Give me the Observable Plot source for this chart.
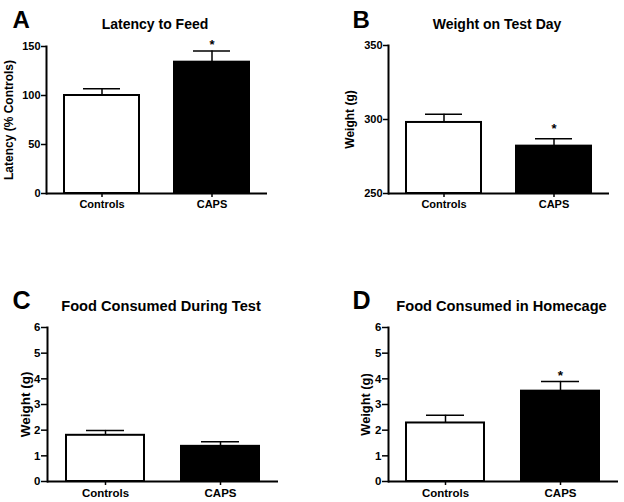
<!DOCTYPE html>
<html>
<head>
<meta charset="utf-8">
<script src="https://cdn.jsdelivr.net/npm/d3@7"></script>
<script src="https://cdn.jsdelivr.net/npm/@observablehq/plot@0.6"></script>
<style>
  body { margin: 0; background: #fff; }
  #wrap { position: relative; width: 624px; height: 502px; overflow: hidden; }
  #wrap svg { position: absolute; }
</style>
</head>
<body>
<div id="wrap"></div>
<script>
// ---- data ----
const groups = ["Controls", "CAPS"];

const latencyMeans = [100, 134];
const latencyErrors = [7, 11.5];
const latencySig = [false, true];
const latencyTicks = [0, 50, 100, 150];

const weightMeans = [298, 282];
const weightErrors = [5.5, 5];
const weightSig = [false, true];
const weightTicks = [250, 300, 350];

const foodTestMeans = [1.8, 1.37];
const foodTestErrors = [0.19, 0.18];
const foodTestSig = [false, false];
const foodTicks = [0, 1, 2, 3, 4, 5, 6];

const foodHomeMeans = [2.28, 3.52];
const foodHomeErrors = [0.3, 0.38];
const foodHomeSig = [false, true];

const FONT = "'Liberation Sans', Arial, Helvetica, sans-serif";

function panel(cfg) {
  const data = groups.map((g, i) => ({
    group: g, mean: cfg.means[i], err: cfg.errors[i], top: cfg.means[i] + cfg.errors[i], sig: cfg.sig[i]
  }));
  const base = cfg.ticks[0];
  const k = cfg.k;
  const svg = Plot.plot({
    width: cfg.width,
    height: cfg.height,
    marginLeft: cfg.mL, marginRight: cfg.mR, marginTop: cfg.mT, marginBottom: cfg.mB,
    style: {fontFamily: FONT, fontWeight: "bold", fontSize: (11 * k) + "px", color: "black", background: "white", overflow: "visible"},
    x: {domain: groups, paddingInner: 0.32, paddingOuter: 0.16, axis: null},
    y: {domain: [cfg.ticks[0], cfg.ticks[cfg.ticks.length - 1]], axis: null},
    color: {type: "identity"},
    marks: [
      Plot.barY(data, {x: "group", y1: () => base, y2: "mean",
        fill: d => d.group === "CAPS" ? "black" : "white", stroke: "black", strokeWidth: 2}),
      Plot.ruleX(data, {x: "group", y1: "mean", y2: "top", stroke: "black", strokeWidth: 1.5}),
      Plot.tickY(data, {x: "group", y: "top", stroke: "black", strokeWidth: 1.5, insetLeft: cfg.cap, insetRight: cfg.cap}),
      Plot.text(data.filter(d => d.sig), {x: "group", y: "top", text: () => "*", dy: cfg.starDy,
        fontSize: 13 * k, lineAnchor: "middle", fill: "black"}),
      Plot.ruleY([base], {stroke: "black", strokeWidth: 2}),
      Plot.frame({anchor: "left", stroke: "black", strokeWidth: 2}),
      Plot.axisY({ticks: cfg.ticks, tickFormat: d => String(d), tickSize: cfg.tickSize, tickPadding: 1, label: null,
        strokeWidth: 1.5, fontSize: 11 * k}),
      Plot.axisX({tickSize: 4, tickPadding: 3, label: null, strokeWidth: 1.5, fontSize: 11 * k}),
      Plot.text([cfg.yLabel], {frameAnchor: "left", rotate: -90, dx: cfg.labelDx, textAnchor: "middle",
        lineAnchor: "middle", fontSize: cfg.labelSize, fill: "black"}),
      Plot.text([cfg.title], {frameAnchor: "top", dx: -2, dy: cfg.titleDy, lineAnchor: "bottom",
        fontSize: 14 * k, fill: "black"}),
      Plot.text([cfg.letter], {frameAnchor: "top-left", dx: cfg.letterDx, dy: cfg.letterDy, textAnchor: "start",
        lineAnchor: "bottom", fontSize: 24 * k, fill: "black"})
    ]
  });
  svg.style.left = cfg.left + "px";
  svg.style.top = cfg.top + "px";
  document.getElementById("wrap").appendChild(svg);
}

panel({letter: "A", title: "Latency to Feed", yLabel: "Latency (% Controls)",
  means: latencyMeans, errors: latencyErrors, sig: latencySig, ticks: latencyTicks,
  left: 0, top: 0, width: 312, height: 250, mL: 46, mR: 45, mT: 46, mB: 57,
  k: 1, cap: 19, tickSize: 5, starDy: -6.5, labelDx: -37, labelSize: 12, titleDy: -18, letterDx: -34, letterDy: -19});

panel({letter: "B", title: "Weight on Test Day", yLabel: "Weight (g)",
  means: weightMeans, errors: weightErrors, sig: weightSig, ticks: weightTicks,
  left: 312, top: 0, width: 312, height: 250, mL: 76, mR: 15, mT: 45, mB: 57,
  k: 1, cap: 19, tickSize: 5, starDy: -9.5, labelDx: -38, labelSize: 12, titleDy: -17, letterDx: -36, letterDy: -18});

panel({letter: "C", title: "Food Consumed During Test", yLabel: "Weight (g)",
  means: foodTestMeans, errors: foodTestErrors, sig: foodTestSig, ticks: foodTicks,
  left: 0, top: 250, width: 312, height: 252, mL: 47, mR: 34, mT: 77, mB: 21,
  k: 1.045, cap: 20, tickSize: 6, starDy: -6, labelDx: -22, labelSize: 13.5, titleDy: -17, letterDx: -35, letterDy: -19});

panel({letter: "D", title: "Food Consumed in Homecage", yLabel: "Weight (g)",
  means: foodHomeMeans, errors: foodHomeErrors, sig: foodHomeSig, ticks: foodTicks,
  left: 312, top: 250, width: 312, height: 252, mL: 76, mR: 6, mT: 77, mB: 21,
  k: 1.045, cap: 20, tickSize: 6, starDy: -6, labelDx: -23, labelSize: 12.8, titleDy: -17, letterDx: -36, letterDy: -19});
</script>
</body>
</html>
